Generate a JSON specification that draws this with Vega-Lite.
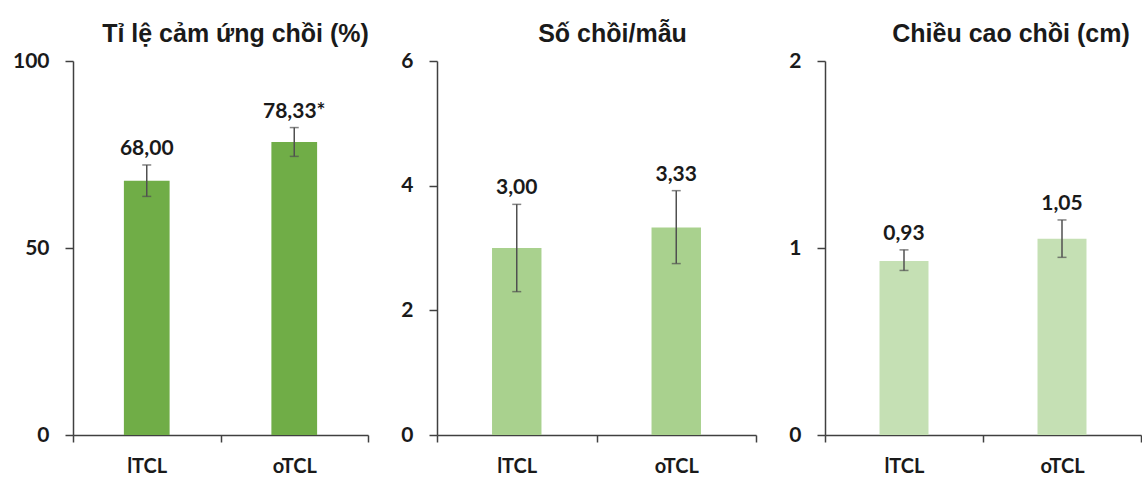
{
  "$schema": "https://vega.github.io/schema/vega-lite/v6.json",
  "background": "white",
  "padding": {"left": 12, "top": 22, "right": 0, "bottom": 0},
  "bounds": "flush",
  "spacing": 69,
  "config": {
    "view": {"stroke": null},
    "axis": {
      "title": null,
      "grid": false,
      "domainColor": "#404040",
      "domainWidth": 1.5,
      "tickColor": "#404040",
      "tickWidth": 1.5,
      "labelFont": "Lato",
      "labelFontWeight": "bold",
      "labelFontSize": 21,
      "labelColor": "#1a1a1a"
    },
    "axisY": {"tickSize": 8, "labelPadding": 16, "format": "d"},
    "axisX": {"tickSize": 7, "labelPadding": 14, "labelAngle": 0, "tickBand": "extent", "labelFontSize": 20},
    "title": {
      "font": "Liberation Sans",
      "fontSize": 25,
      "fontWeight": "bold",
      "color": "#1a1a1a",
      "anchor": "middle",
      "offset": 3
    }
  },
  "datasets": {
    "d1": [
      {"g": "lTCL", "v": 68.0, "lo": 63.8, "hi": 72.2, "label": "68,00"},
      {"g": "oTCL", "v": 78.33, "lo": 74.5, "hi": 82.2, "label": "78,33*"}
    ],
    "d2": [
      {"g": "lTCL", "v": 3.0, "lo": 2.3, "hi": 3.7, "label": "3,00"},
      {"g": "oTCL", "v": 3.33, "lo": 2.75, "hi": 3.92, "label": "3,33"}
    ],
    "d3": [
      {"g": "lTCL", "v": 0.93, "lo": 0.88, "hi": 0.99, "label": "0,93"},
      {"g": "oTCL", "v": 1.05, "lo": 0.95, "hi": 1.15, "label": "1,05"}
    ]
  },
  "hconcat": [
    {
      "width": 295,
      "height": 374,
      "data": {"name": "d1"},
      "title": {"text": "Tỉ lệ cảm ứng chồi (%)", "dx": 15},
      "encoding": {
        "x": {"field": "g", "type": "nominal", "sort": null, "title": null, "scale": {"paddingInner": 0, "paddingOuter": 0}}
      },
      "layer": [
        {
          "mark": {"type": "bar", "width": {"band": 0.31}, "color": "#70AD47"},
          "encoding": {"y": {"field": "v", "type": "quantitative", "title": null, "scale": {"domain": [0, 100], "nice": false}, "axis": {"values": [0, 50, 100], "title": null}}}
        },
        {
          "mark": {"type": "errorbar", "color": "#505050", "ticks": {"size": 9, "thickness": 1.5}, "rule": {"strokeWidth": 1.5}},
          "encoding": {"y": {"field": "lo", "type": "quantitative", "title": null, "scale": {"domain": [0, 100], "nice": false}}, "y2": {"field": "hi", "title": null}}
        },
        {
          "mark": {"type": "text", "baseline": "alphabetic", "dy": -10, "font": "Lato", "fontWeight": "bold", "fontSize": 21, "color": "#1a1a1a"},
          "encoding": {"y": {"field": "hi", "type": "quantitative", "title": null, "scale": {"domain": [0, 100], "nice": false}}, "text": {"field": "label"}}
        }
      ]
    },
    {
      "width": 319,
      "height": 374,
      "data": {"name": "d2"},
      "title": {"text": "Số chồi/mẫu", "dx": 16},
      "encoding": {
        "x": {"field": "g", "type": "nominal", "sort": null, "title": null, "scale": {"paddingInner": 0, "paddingOuter": 0}}
      },
      "layer": [
        {
          "mark": {"type": "bar", "width": {"band": 0.31}, "color": "#A9D18E"},
          "encoding": {"y": {"field": "v", "type": "quantitative", "title": null, "scale": {"domain": [0, 6], "nice": false}, "axis": {"values": [0, 2, 4, 6], "title": null}}}
        },
        {
          "mark": {"type": "errorbar", "color": "#505050", "ticks": {"size": 9, "thickness": 1.5}, "rule": {"strokeWidth": 1.5}},
          "encoding": {"y": {"field": "lo", "type": "quantitative", "title": null, "scale": {"domain": [0, 6], "nice": false}}, "y2": {"field": "hi", "title": null}}
        },
        {
          "mark": {"type": "text", "baseline": "alphabetic", "dy": -10, "font": "Lato", "fontWeight": "bold", "fontSize": 21, "color": "#1a1a1a"},
          "encoding": {"y": {"field": "hi", "type": "quantitative", "title": null, "scale": {"domain": [0, 6], "nice": false}}, "text": {"field": "label"}}
        }
      ]
    },
    {
      "width": 316,
      "height": 374,
      "data": {"name": "d3"},
      "title": {"text": "Chiều cao chồi (cm)", "dx": 28},
      "encoding": {
        "x": {"field": "g", "type": "nominal", "sort": null, "title": null, "scale": {"paddingInner": 0, "paddingOuter": 0}}
      },
      "layer": [
        {
          "mark": {"type": "bar", "width": {"band": 0.31}, "color": "#C5E0B4"},
          "encoding": {"y": {"field": "v", "type": "quantitative", "title": null, "scale": {"domain": [0, 2], "nice": false}, "axis": {"values": [0, 1, 2], "title": null}}}
        },
        {
          "mark": {"type": "errorbar", "color": "#505050", "ticks": {"size": 9, "thickness": 1.5}, "rule": {"strokeWidth": 1.5}},
          "encoding": {"y": {"field": "lo", "type": "quantitative", "title": null, "scale": {"domain": [0, 2], "nice": false}}, "y2": {"field": "hi", "title": null}}
        },
        {
          "mark": {"type": "text", "baseline": "alphabetic", "dy": -10, "font": "Lato", "fontWeight": "bold", "fontSize": 21, "color": "#1a1a1a"},
          "encoding": {"y": {"field": "hi", "type": "quantitative", "title": null, "scale": {"domain": [0, 2], "nice": false}}, "text": {"field": "label"}}
        }
      ]
    }
  ]
}
